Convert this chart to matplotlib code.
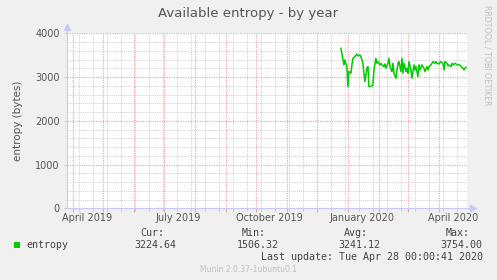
import matplotlib
matplotlib.use("Agg")
from matplotlib import pyplot as plt
from matplotlib import transforms
import matplotlib.dates as mdates
import numpy as np
import pandas as pd

# entropy samples (bytes)
dates = ["2019-12-25", "2019-12-28", "2019-12-29", "2019-12-31", "2020-01-01",
         "2020-01-02", "2020-01-04", "2020-01-05", "2020-01-06", "2020-01-08",
         "2020-01-10", "2020-01-11", "2020-01-13", "2020-01-14", "2020-01-16",
         "2020-01-17", "2020-01-18", "2020-01-20", "2020-01-21", "2020-01-22",
         "2020-01-24", "2020-01-26", "2020-01-27", "2020-01-29", "2020-01-30",
         "2020-01-31", "2020-02-02", "2020-02-03", "2020-02-04", "2020-02-06",
         "2020-02-07", "2020-02-08", "2020-02-10", "2020-02-11", "2020-02-12",
         "2020-02-14", "2020-02-15", "2020-02-16", "2020-02-18", "2020-02-20",
         "2020-02-21", "2020-02-23", "2020-02-24", "2020-02-25", "2020-02-26",
         "2020-02-28", "2020-02-29", "2020-03-01", "2020-03-02", "2020-03-04",
         "2020-03-05", "2020-03-07", "2020-03-08", "2020-03-09", "2020-03-11",
         "2020-03-12", "2020-03-13", "2020-03-15", "2020-03-16", "2020-03-17",
         "2020-03-18", "2020-03-20", "2020-03-21", "2020-03-22", "2020-03-24",
         "2020-03-25", "2020-03-26", "2020-03-28", "2020-03-29", "2020-03-30",
         "2020-04-01", "2020-04-02", "2020-04-03", "2020-04-05", "2020-04-06",
         "2020-04-07", "2020-04-09", "2020-04-10", "2020-04-11", "2020-04-13",
         "2020-04-14", "2020-04-15", "2020-04-17", "2020-04-18", "2020-04-19",
         "2020-04-21", "2020-04-22", "2020-04-23", "2020-04-25", "2020-04-26",
         "2020-04-27", "2020-04-28"]
entropy = [3657, 3277, 3391, 3239, 2783,
           3125, 3087, 3277, 3429, 3467,
           3528, 3483, 3505, 3467, 3315,
           3087, 2897, 3201, 3239, 2783,
           2783, 2821, 3163, 3429, 3315,
           3353, 3277, 3315, 3277, 3239,
           3300, 3201, 3315, 3429, 3239,
           3125, 3315, 3087, 2973, 3315,
           3353, 3125, 3429, 3087, 3315,
           3125, 3201, 3087, 3353, 3163,
           2973, 3277, 3163, 3239, 3011,
           3277, 3163, 3277, 3239, 3201,
           3125, 3239, 3163, 3239, 3277,
           3315, 3353, 3315, 3353, 3315,
           3300, 3330, 3353, 3315, 3163,
           3353, 3315, 3255, 3277, 3239,
           3315, 3277, 3315, 3300, 3277,
           3277, 3277, 3239, 3201, 3163,
           3201, 3225]

x_start, x_end = "2019-03-26", "2020-04-29"
label_months = ["2019-04-15", "2019-07-15", "2019-10-15", "2020-01-15", "2020-04-15"]
label_text = ["April 2019", "July 2019", "October 2019", "January 2020", "April 2020"]
stats_head = ["Cur:", "Min:", "Avg:", "Max:"]
stats_vals = ["3224.64", "1506.32", "3241.12", "3754.00"]

W, H = 497, 280
fig = plt.figure(figsize=(W / 100, H / 100), dpi=100, facecolor="#F0F0F0")
ax = fig.add_axes([66.7 / W, (H - 208.3) / H, 400.3 / W, 175.0 / H])
ax.set_facecolor("white")

t = pd.to_datetime(dates)
ax.plot(t, entropy, color="#00CC00", lw=1.1, zorder=5)

ax.set_xlim(pd.Timestamp(x_start), pd.Timestamp(x_end))
ax.set_ylim(0, 4000)

ax.xaxis.set_major_locator(mdates.MonthLocator())
minor_days = pd.date_range("2019-04-07", x_end, freq="14D")
ax.set_xticks(mdates.date2num(minor_days), minor=True)
ax.set_yticks(np.arange(0, 4001, 1000))
ax.set_yticks(np.arange(0, 4001, 200), minor=True)

# grey minor grid, red major lines on top of it
dot = (0, (1, 1))
red = "#F4A4A4"
ax.grid(which="minor", color="#D0D0D0", lw=0.7, ls=dot)
ax.set_axisbelow(True)
for xv in ax.xaxis.get_majorticklocs():
    ax.axvline(xv, color=red, lw=0.85, ls=dot, zorder=1)
for yv in ax.yaxis.get_majorticklocs()[1:]:
    ax.axhline(yv, color=red, lw=0.85, ls=dot, zorder=1)

ax.set_xticklabels([])
ax.tick_params(axis="x", which="major", length=3, width=0.8, color=red, direction="out")
ax.tick_params(axis="x", which="minor", length=2, width=0.7, color="#C8C8C8", direction="out")
ax.tick_params(axis="y", which="major", length=2, width=0.7, color="#C8C8C8",
               labelsize=7, labelcolor="#555555", pad=3)
ax.tick_params(axis="y", which="minor", length=0)

for s in ["top", "right"]:
    ax.spines[s].set_visible(False)
for s in ["left", "bottom"]:
    ax.spines[s].set_color("#C8C8F8")
    ax.spines[s].set_linewidth(0.8)
    ax.spines[s].set_zorder(6)

# axis arrows
ax.plot([0, 0], [1.0, 1.03], transform=ax.transAxes, color="#C8C8F8", lw=0.8, clip_on=False)
ax.plot([0], [1.035], marker="^", ms=4, color="#C8C8F8", transform=ax.transAxes, clip_on=False)
ax.plot([1.0, 1.012], [0, 0], transform=ax.transAxes, color="#C8C8F8", lw=0.8, clip_on=False)
ax.plot([1.014], [0], marker=">", ms=4, color="#C8C8F8", transform=ax.transAxes, clip_on=False)

tr = transforms.blended_transform_factory(ax.transData, ax.transAxes)
for d, s in zip(label_months, label_text):
    ax.text(mdates.date2num(pd.Timestamp(d)), -0.058, s, transform=tr, ha="center", va="center",
            fontsize=7, color="#555555")

ax.set_ylabel("entropy (bytes)", fontsize=7.5, color="#555555", labelpad=9)

fig.text(248 / W, 1 - 13 / H, "Available entropy - by year", ha="center", va="center",
         fontsize=9.5, color="#555555")
fig.text(487 / W, 1 - 5 / H, "RRDTOOL / TOBI OETIKER", rotation=270, ha="center", va="top",
         fontsize=5.7, color="#C0C0C0")

mono = "DejaVu Sans Mono"
fig.patches.append(plt.Rectangle((14 / W, 1 - 248 / H), 6 / W, 6 / H, transform=fig.transFigure,
                                 facecolor="#00CC00", edgecolor="none"))
fig.text(26 / W, 1 - 245.5 / H, "entropy", family=mono, fontsize=7.2, color="#444444", va="center")
head_right = [164, 266, 368, 470]
val_right = [176, 278.7, 380.5, 482.7]
for hx, vx, h, v in zip(head_right, val_right, stats_head, stats_vals):
    fig.text(hx / W, 1 - 232.5 / H, h, family=mono, fontsize=7.2, color="#444444", ha="right", va="center")
    fig.text(vx / W, 1 - 245.5 / H, v, family=mono, fontsize=7.2, color="#444444", ha="right", va="center")
fig.text(482.7 / W, 1 - 257 / H, "Last update: Tue Apr 28 00:00:41 2020", family=mono, fontsize=7.2,
         color="#444444", ha="right", va="center")
fig.text(248 / W, 1 - 270 / H, "Munin 2.0.37-1ubuntu0.1", ha="center", va="center",
         fontsize=5.5, color="#C0C0C0")

fig.savefig("out.png", dpi=100, facecolor=fig.get_facecolor())
